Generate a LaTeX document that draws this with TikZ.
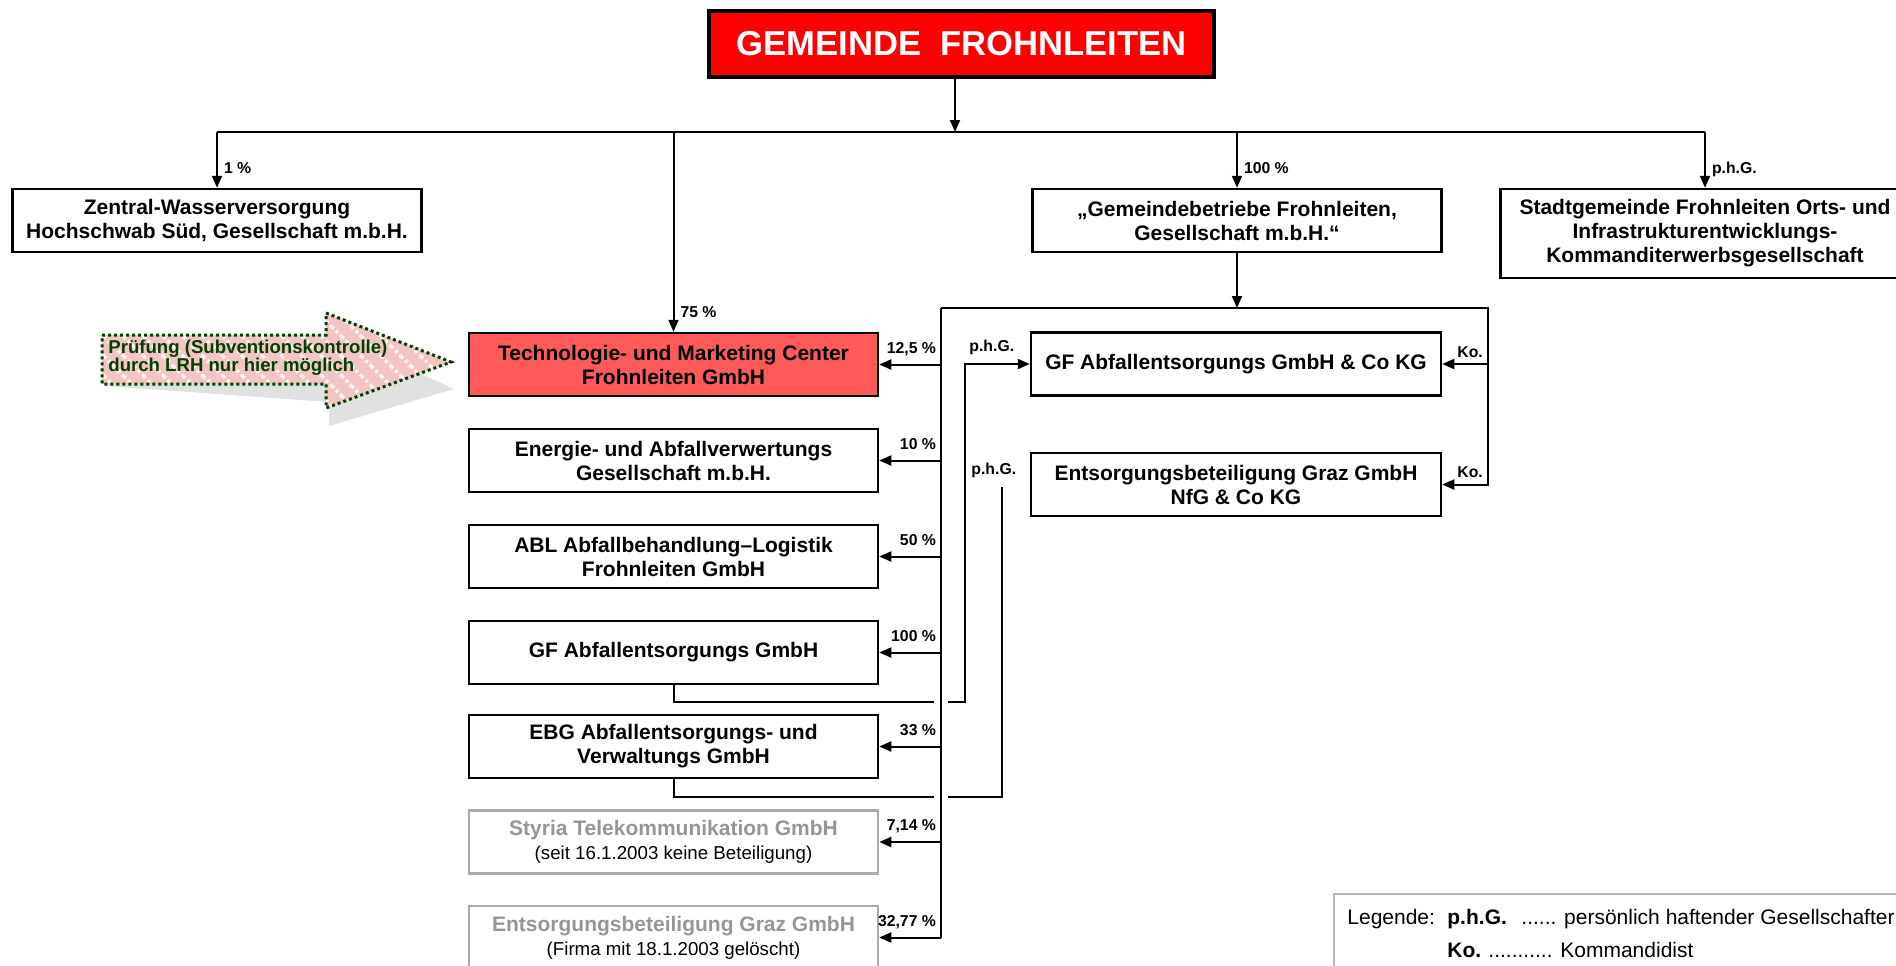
\documentclass[tikz,border=0pt]{standalone}
\usepackage{fontspec}
\setmainfont{Liberation Sans}
\usetikzlibrary{arrows.meta,patterns.meta}

\definecolor{titlered}{RGB}{255,0,0}
\definecolor{tmcred}{RGB}{255,90,90}
\definecolor{oldgray}{RGB}{150,150,150}
\definecolor{lrhgreen}{RGB}{0,64,0}
\definecolor{lrhpink}{RGB}{243,196,196}
\definecolor{shadowgray}{RGB}{225,225,225}

\begin{document}
\begin{tikzpicture}[x=0.5pt,y=-0.5pt,
  box/.style={draw,line width=1.25pt,minimum width=204.5pt,minimum height=31.5pt,align=center,inner sep=0pt,font=\fontsize{10.5}{12}\selectfont\bfseries},
  oldbox/.style={box,draw=oldgray!80,text=oldgray},
  link/.style={line width=1pt},
  pct/.style={font=\fontsize{7.9}{9}\selectfont\bfseries,inner sep=0pt},
  leg/.style={font=\fontsize{10.5}{12}\selectfont,inner sep=0pt},
  lrh/.style={draw=lrhgreen,line width=1.5pt,dash pattern=on 1.5pt off 1.5pt,preaction={fill=lrhpink},pattern={Lines[angle=-45,distance=7pt,line width=1.8pt]},pattern color=white!80!lrhpink},
  >={Triangle[length=6pt,width=5pt]}]
\useasboundingbox (0,0) rectangle (1896,965);

% Gemeinde und direkte Beteiligungen
\node[box,fill=titlered,text=white,line width=2pt,minimum width=252.5pt,minimum height=33pt,font=\fontsize{17.3}{19}\selectfont\bfseries] (gem) at (961.5,44) {GEMEINDE\ \ FROHNLEITEN};
\node[box] (zwv) at (217,220.5) {Zentral-Wasserversorgung\\Hochschwab Süd, Gesellschaft m.b.H.};
\node[box] (gbf) at (1237,220.5) {„Gemeindebetriebe Frohnleiten,\\Gesellschaft m.b.H.“};
\node[box,minimum height=44.5pt] (stadt) at (1705,233.5) {Stadtgemeinde Frohnleiten Orts- und\\Infrastrukturentwicklungs-\\Kommanditerwerbsgesellschaft};

% linke Spalte
\node[box,fill=tmcred] (tmc) at (673.5,364.5) {Technologie- und Marketing Center\\Frohnleiten GmbH};
\node[box] (eav) at (673.5,460.5) {Energie- und Abfallverwertungs\\Gesellschaft m.b.H.};
\node[box] (abl) at (673.5,556.5) {ABL Abfallbehandlung–Logistik\\Frohnleiten GmbH};
\node[box] (gfa) at (673.5,652.5) {GF Abfallentsorgungs GmbH};
\node[box] (ebg) at (673.5,746.5) {EBG Abfallentsorgungs- und\\Verwaltungs GmbH};
\node[oldbox] (stk) at (673.5,842) {Styria Telekommunikation GmbH\\{\mdseries\fontsize{9.35}{11}\selectfont\color{black}(seit 16.1.2003 keine Beteiligung)}};
\node[oldbox] (egg) at (673.5,937.5) {Entsorgungsbeteiligung Graz GmbH\\{\mdseries\fontsize{9.35}{11}\selectfont\color{black}(Firma mit 18.1.2003 gelöscht)}};

% rechte Spalte
\node[box,minimum width=205pt] (gfkg) at (1236,364) {GF Abfallentsorgungs GmbH \& Co KG};
\node[box,minimum width=205pt] (nfg) at (1236,484.5) {Entsorgungsbeteiligung Graz GmbH\\NfG \& Co KG};

\coordinate (bus) at (955,132);
\coordinate (trunk) at (941,308);
\coordinate (ko) at (1488,308);
\coordinate (hop1) at (941,702);
\coordinate (hop2) at (941,797);
\coordinate (phgend) at (1002,487);

\draw[link,->] (gem.south -| bus) -- (bus);
\draw[link] (zwv.north |- bus) -- (stadt.north |- bus);
\foreach \nm/\lab in {zwv/{1~\%},tmc/{75~\%},gbf/{100~\%},stadt/{p.h.G.}}
  \draw[link,->] (\nm.north |- bus) -- (\nm.north) node[pct,anchor=base west,xshift=3pt,yshift=7pt,pos=1] {\lab};

\draw[link,->] (gbf) -- (gbf |- trunk);
\draw[link,->] (trunk) -- (ko) |- (nfg.east);
\draw[link,->] (ko |- gfkg.east) -- (gfkg.east);
\draw[link,->] (gfa.south) |- (965,702) |- (gfkg.west);
\draw[link] (ebg.south) |- (1002,797) -- (phgend);
\foreach \h in {hop1,hop2}
  \fill[white] ([xshift=-3.5pt,yshift=-2pt]\h) rectangle ([xshift=3.5pt,yshift=2pt]\h);

\draw[link] (trunk) -- (trunk |- egg.east);
\foreach \nm/\pc in {tmc/{12,5},eav/10,abl/50,gfa/100,ebg/33,stk/{7,14},egg/{32,77}}
  \draw[link,->] (trunk |- \nm.east) -- (\nm.east) node[pct,anchor=base east,xshift=-2pt,yshift=5.7pt,pos=0] {\pc~\%};

\node[pct,anchor=base west] (phg1) at (969,351) {p.h.G.};
\node[pct,anchor=base west] (phg2) at (971,474) {p.h.G.};
\node[pct,anchor=base west] (ko1) at (1457,357) {Ko.};
\node[pct,anchor=base west] (ko2) at (1457,477) {Ko.};

% Pruefhinweis
\fill[shadowgray] (105,337) -- (329,353) -- (329,331) -- (454,389) -- (329,426) -- (329,402) -- (105,386) -- cycle;
\draw[lrh] (102,335) -- (326,335) -- (326,313) -- (451,362) -- (326,408) -- (326,384) -- (102,384) -- cycle;
\node[anchor=west,align=left,inner sep=0pt,text=lrhgreen,font=\fontsize{9.3}{9}\selectfont\bfseries] (lrh) at (108,358) {Prüfung (Subventionskontrolle)\\durch LRH nur hier möglich};

% Legende
\draw[oldgray!70,line width=0.75pt] (1334,894) rectangle (1910,975);
\node[leg,anchor=base west] (legh) at (1347,924) {Legende:};
\node[leg,anchor=base west,font=\fontsize{10.5}{12}\selectfont\bfseries] (legp) at (1447,924) {p.h.G.};
\node[leg,anchor=base west] (legpt) at (1521,924) {...... persönlich haftender Gesellschafter};
\node[leg,anchor=base west,font=\fontsize{10.5}{12}\selectfont\bfseries] (legk) at (1447,957) {Ko.};
\node[leg,anchor=base west] (legkt) at (1488,957) {........... Kommandidist};
\end{tikzpicture}
\end{document}
